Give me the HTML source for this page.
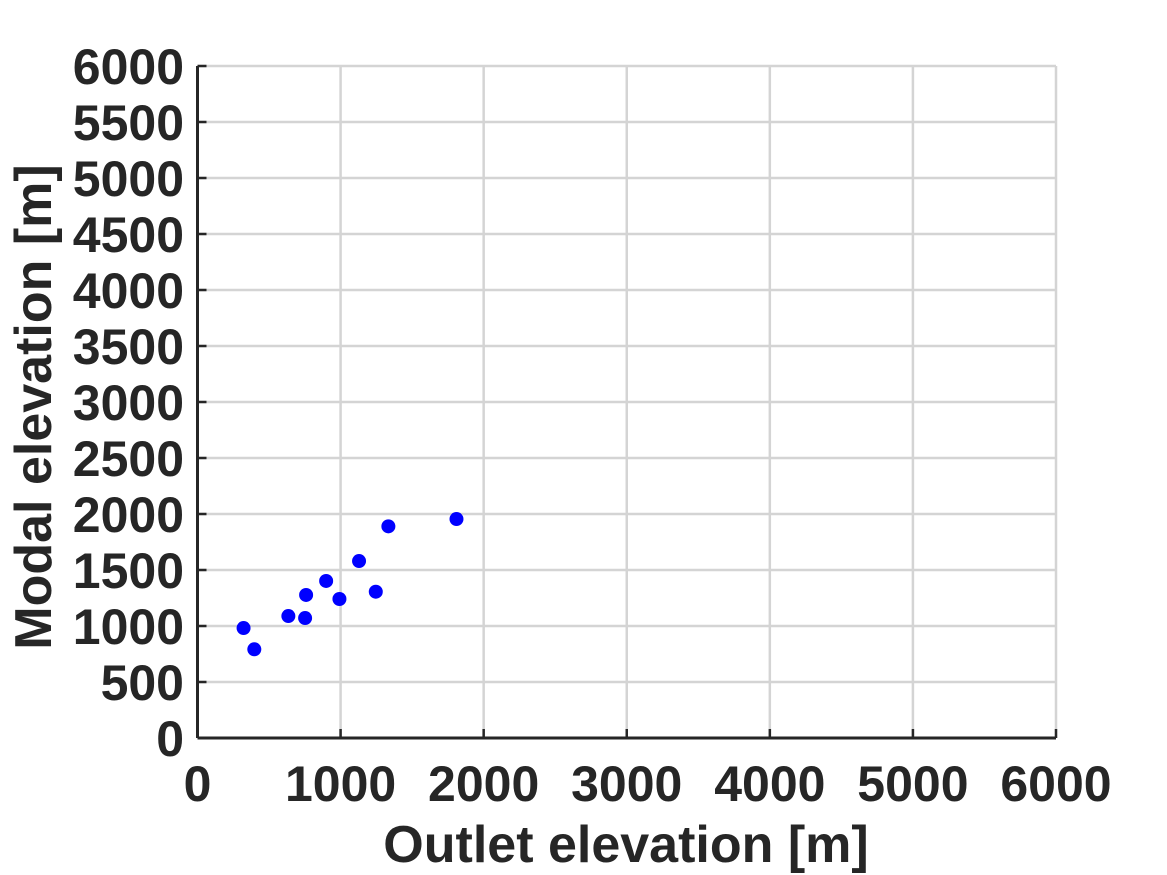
<!DOCTYPE html>
<html><head><meta charset="utf-8"><style>
html,body{margin:0;padding:0;background:#fff;width:1167px;height:875px;overflow:hidden}
svg text{font-family:"Liberation Sans",Arial,sans-serif;font-weight:bold;fill:#262626}
</style></head><body>
<svg id="chart" width="1167" height="875" xmlns="http://www.w3.org/2000/svg">
<g id="grid"></g>
<g id="axes"></g>
<g id="points"></g>
<text x="626" y="862" font-size="52" text-anchor="middle">Outlet elevation [m]</text>
<text transform="translate(51,407) rotate(-90)" font-size="52" text-anchor="middle">Modal elevation [m]</text>
</svg>
<script>
const outletElev=[322,397,635,752,759,899,992,1129,1246,1334,1810];
const modalElev=[982,792,1089,1071,1277,1402,1241,1580,1306,1890,1955];
const xTicks=[0,1000,2000,3000,4000,5000,6000];
const yTicks=[0,500,1000,1500,2000,2500,3000,3500,4000,4500,5000,5500,6000];
const NS="http://www.w3.org/2000/svg";
const L=197.5,R=1056,T=66,B=738;
const sx=v=>L+(v-0)/6000*(R-L);
const sy=v=>B-(v-0)/6000*(B-T);
function mk(tag,attrs,parent){const e=document.createElementNS(NS,tag);for(const k in attrs)e.setAttribute(k,attrs[k]);parent.appendChild(e);return e;}
const grid=document.getElementById('grid'),axes=document.getElementById('axes'),pts=document.getElementById('points');
xTicks.forEach(t=>{
  const g=mk('line',{x1:sx(t),x2:sx(t),y1:T,y2:B,stroke:'#d4d4d4','stroke-width':2.5},grid);
  
  
  const tk=mk('line',{x1:sx(t),x2:sx(t),y1:B,y2:B-9,stroke:'#262626','stroke-width':2.5},axes);
  
  
  const lb=mk('text',{x:sx(t),y:801,'font-size':50,'text-anchor':'middle'},axes);
  lb.textContent=t;
  
  
});
yTicks.forEach(t=>{
  const g=mk('line',{x1:L,x2:R,y1:sy(t),y2:sy(t),stroke:'#d4d4d4','stroke-width':2.5},grid);
  
  
  const tk=mk('line',{x1:L,x2:L+9,y1:sy(t),y2:sy(t),stroke:'#262626','stroke-width':2.5},axes);
  
  
  const lb=mk('text',{x:184,y:sy(t)+18,'font-size':50,'text-anchor':'end'},axes);
  lb.textContent=t;
  
  
});
const xa=mk('line',{x1:L,x2:R,y1:B,y2:B,stroke:'#262626','stroke-width':3},axes);


const ya=mk('line',{x1:L,x2:L,y1:T,y2:B,stroke:'#262626','stroke-width':3},axes);


outletElev.forEach((v,i)=>{
  const c=mk('circle',{cx:sx(v),cy:sy(modalElev[i]),r:7,fill:'#0000ff'},pts);
  
  
});
</script>
</body></html>
